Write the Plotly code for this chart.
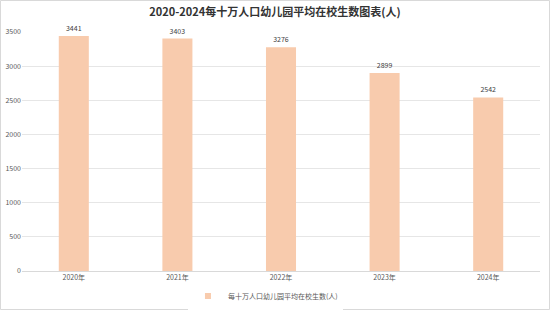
import plotly.graph_objects as go

years = ["2020年", "2021年", "2022年", "2023年", "2024年"]
values = [3441, 3403, 3276, 2899, 2542]
series_name = "每十万人口幼儿园平均在校生数(人)"
title = "2020-2024每十万人口幼儿园平均在校生数图表(人)"
y_ticks = [0, 500, 1000, 1500, 2000, 2500, 3000, 3500]
bar_color = "#F8CBAD"

fig = go.Figure()
fig.add_trace(go.Bar(
    x=years, y=values, name=series_name, showlegend=False,
    marker=dict(color=bar_color, line=dict(width=0)),
    text=[str(v) for v in values], textposition="outside",
    textfont=dict(size=7, color="#404040"),
    cliponaxis=False,
))
# legend entry with a small square swatch
fig.add_trace(go.Scatter(
    x=[None], y=[None], mode="markers", name=series_name,
    marker=dict(symbol="square", size=6, color=bar_color),
))
fig.update_layout(
    width=550, height=310,
    margin=dict(l=22, r=10, t=32, b=39, autoexpand=False),
    paper_bgcolor="white", plot_bgcolor="white",
    font=dict(family="Noto Sans CJK SC, sans-serif", color="#595959"),
    title=dict(text="<b>" + title + "</b>", x=0.5, xanchor="center", y=0.962, yanchor="middle",
               font=dict(size=11, color="#333333")),
    bargap=0.71,
    showlegend=True,
    legend=dict(orientation="h", x=0.47, xanchor="center", y=-25/239, yanchor="middle",
                font=dict(size=7, color="#595959"), itemwidth=30),
    xaxis=dict(showgrid=False, showline=True, linecolor="#D9D9D9", linewidth=1,
               tickfont=dict(size=7, color="#595959"), ticks="", automargin=False),
    yaxis=dict(range=[0, 3500], tickvals=y_ticks, showgrid=True, gridcolor="#E6E6E6",
               zeroline=False, tickfont=dict(size=7, color="#595959"), ticks="",
               automargin=False),
    shapes=[dict(type="rect", xref="paper", yref="paper", x0=-21.5/518, x1=1+9.5/518,
                 y0=-38.5/239, y1=1+31.5/239, line=dict(color="#D9D9D9", width=1))],
)
fig.write_html("out.html")
